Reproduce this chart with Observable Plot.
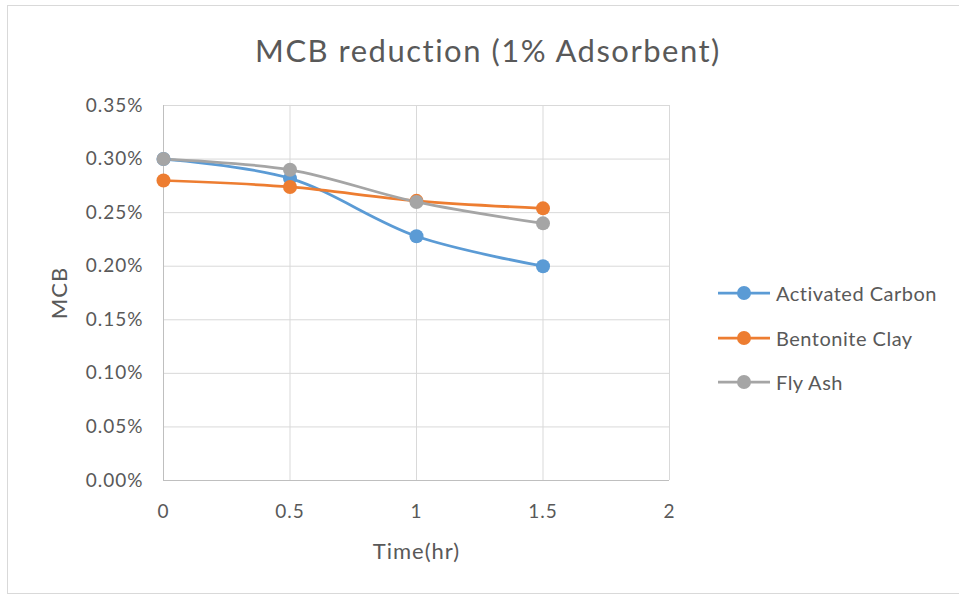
<!DOCTYPE html>
<html>
<head>
<meta charset="utf-8">
<script src="https://cdn.jsdelivr.net/npm/d3@7"></script>
<script src="https://cdn.jsdelivr.net/npm/@observablehq/plot@0.6"></script>
<style>
  body { margin: 0; background: #fff; font-family: Lato, "Open Sans", sans-serif; }
  #wrap { position: relative; width: 959px; height: 597px; overflow: hidden; }
  #border { position: absolute; left: 7px; top: 5px; width: 960px; height: 589px; border: 1px solid #d9d9d9; box-sizing: border-box; }
  #title { position: absolute; left: 0; width: 976px; top: 31px; text-align: center; font-size: 31px; letter-spacing: 1.5px; color: #595959; }
  #legend { position: absolute; left: 716px; top: 271px; font-size: 20px; letter-spacing: 0.5px; color: #595959; }
  .item { display: flex; align-items: center; height: 44.5px; }
  .item svg { margin-right: 4px; }
  #chart { position: absolute; left: 0; top: 0; }
</style>
</head>
<body>
<div id="wrap">
  <div id="border"></div>
  <div id="chart"></div>
  <div id="title">MCB reduction (1% Adsorbent)</div>
  <div id="legend"></div>
</div>
<script>
const times = [0, 0.5, 1, 1.5];
const seriesNames = ["Activated Carbon", "Bentonite Clay", "Fly Ash"];
const activatedCarbon = [0.300, 0.282, 0.228, 0.200];
const bentoniteClay = [0.280, 0.274, 0.261, 0.254];
const flyAsh = [0.300, 0.290, 0.260, 0.240];
const colors = ["#5b9bd5", "#ed7d31", "#a5a5a5"];
const xTicks = [0, 0.5, 1, 1.5, 2];
const yTicks = [0, 0.05, 0.10, 0.15, 0.20, 0.25, 0.30, 0.35];

const seriesValues = [activatedCarbon, bentoniteClay, flyAsh];
const data = [];
seriesNames.forEach((name, i) => {
  times.forEach((t, j) => data.push({series: name, time: t, value: seriesValues[i][j]}));
});

const chart = Plot.plot({
  width: 959,
  height: 597,
  marginLeft: 163,
  marginRight: 290,
  marginTop: 105,
  marginBottom: 117,
  style: {fontFamily: "Lato, 'Open Sans', sans-serif", background: "transparent", color: "#595959"},
  x: {domain: [0, 2]},
  y: {domain: [0, 0.35]},
  color: {domain: seriesNames, range: colors},
  marks: [
    Plot.gridY(yTicks, {stroke: "#d9d9d9", strokeOpacity: 1, strokeWidth: 1}),
    Plot.gridX(xTicks, {stroke: "#d9d9d9", strokeOpacity: 1, strokeWidth: 1}),
    Plot.ruleX([0], {stroke: "#bfbfbf"}),
    Plot.ruleY([0], {stroke: "#bfbfbf"}),
    Plot.axisX(xTicks, {tickSize: 0, tickPadding: 24, fontSize: 19, fill: "#595959",
      tickFormat: d => String(d), label: "Time(hr)", labelAnchor: "center", labelArrow: "none", labelOffset: 78}),
    Plot.axisY(yTicks, {tickSize: 0, tickPadding: 20, fontSize: 19, fill: "#595959",
      tickFormat: d => d.toFixed(2) + "%", label: "MCB", labelAnchor: "center", labelArrow: "none", labelOffset: 112}),
    Plot.line(data, {x: "time", y: "value", z: "series", stroke: "series", strokeWidth: 2.75, curve: "catmull-rom"}),
    Plot.dot(data, {x: "time", y: "value", fill: "series", r: 7})
  ]
});
chart.querySelectorAll('[aria-label="x-axis tick label"] text, [aria-label="y-axis tick label"] text').forEach(t => {
  t.setAttribute("letter-spacing", "1");
});
chart.querySelectorAll('[aria-label="x-axis label"] text, [aria-label="y-axis label"] text').forEach(t => {
  t.setAttribute("font-size", "22");
  t.setAttribute("letter-spacing", "1");
});
document.getElementById("chart").appendChild(chart);

const legend = d3.select("#legend");
seriesNames.forEach((name, i) => {
  const item = legend.append("div").attr("class", "item");
  const s = item.append("svg").attr("width", 56).attr("height", 16);
  s.append("line").attr("x1", 2).attr("x2", 54).attr("y1", 8).attr("y2", 8)
    .attr("stroke", colors[i]).attr("stroke-width", 2.75);
  s.append("circle").attr("cx", 28).attr("cy", 8).attr("r", 7).attr("fill", colors[i]);
  item.append("span").text(name);
});
</script>
</body>
</html>
